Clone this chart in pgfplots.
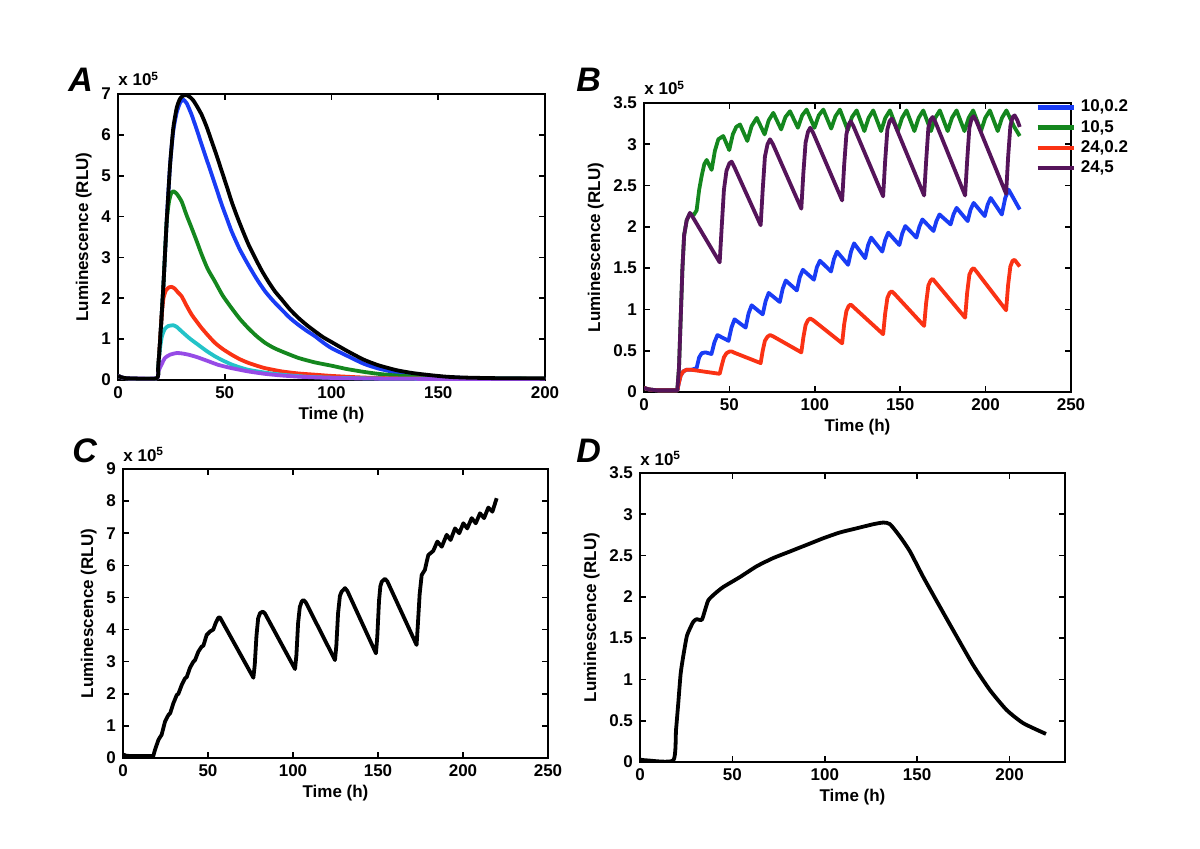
\documentclass[border=0pt]{standalone}
\usepackage{fontspec}
\setmainfont{Liberation Sans}
\usepackage{pgfplots}
\pgfplotsset{compat=1.18}
\definecolor{mblue}{RGB}{25,60,245}
\definecolor{mgreen}{RGB}{20,135,30}
\definecolor{mred}{RGB}{250,50,20}
\definecolor{mcyan}{RGB}{35,195,200}
\definecolor{mviolet}{RGB}{150,75,230}
\definecolor{mpurple}{RGB}{85,20,90}
\newcommand{\fs}{\fontsize{8.5}{10}\selectfont\bfseries}
\newcommand{\pl}{\fontsize{17}{18}\selectfont\bfseries\itshape}
\pgfplotsset{mat/.style={
  scale only axis,
  axis line style={line width=0.8pt},
  tick style={line width=0.8pt, black},
  tick align=inside,
  major tick length=3pt,
  xlabel={Time (h)},
  ylabel={Luminescence (RLU)},
  tick label style={font=\fs},
  label style={font=\fs},
  /pgf/number format/assume math mode=true,
  every axis plot/.append style={line width=1.9pt, line join=round},
  xlabel style={yshift=3pt},
  ylabel style={yshift=-2pt},
}}
\begin{document}
\begin{tikzpicture}
\path (0pt,0pt) rectangle (600pt,424pt);
% ---------------- A ----------------
\begin{axis}[mat, name=A, at={(59pt,234pt)}, anchor=south west,
  width=213.5pt, height=143pt, xmin=0, xmax=200, ymin=0, ymax=7,
  xtick={0,50,100,150,200}, ytick={0,1,...,7},
  every axis plot/.append style={smooth, tension=0.35}]
\addplot[mblue] coordinates {(0,0.10)(2,0.06)(5,0.04)(18,0.04)(18.8,0.3)(19.7,0.95)(21.2,2.25)(22.8,3.88)(24.4,5.27)(25.9,6.1)(27.5,6.55)(29.2,6.80)(30.6,6.86)(32.2,6.77)(34.5,6.49)(36.8,6.14)(39.2,5.76)(41.5,5.40)(43.9,5.03)(46.3,4.65)(48.6,4.29)(51,3.95)(53.2,3.64)(57,3.20)(61,2.82)(65,2.47)(68.9,2.17)(72.8,1.93)(76.7,1.72)(80.5,1.52)(84.5,1.35)(88.5,1.20)(92.3,1.07)(96,0.92)(100,0.78)(107,0.60)(115,0.40)(122,0.28)(130.5,0.18)(138,0.12)(146,0.09)(154,0.065)(170,0.04)(200,0.03)};
\addplot[mgreen] coordinates {(0,0.10)(2,0.06)(5,0.04)(18,0.04)(18.8,0.3)(19.7,0.95)(21.2,2.25)(22.8,3.88)(24,4.40)(25,4.58)(25.9,4.62)(27.5,4.56)(29.8,4.37)(32,4.05)(34.5,3.72)(37,3.38)(39.2,3.07)(42,2.72)(45.4,2.41)(49,2.07)(53.2,1.76)(57,1.50)(61,1.27)(65,1.07)(68.9,0.91)(72.8,0.79)(76.7,0.70)(84.5,0.54)(92.3,0.43)(100,0.35)(107,0.27)(115,0.20)(122,0.15)(130.5,0.11)(146,0.06)(160,0.045)(200,0.03)};
\addplot[mred] coordinates {(0,0.10)(2,0.06)(5,0.04)(18,0.04)(18.8,0.3)(19.7,0.95)(20.5,1.6)(21.3,2.0)(22.5,2.2)(24,2.27)(25.1,2.28)(26.5,2.24)(28,2.15)(29.8,2.05)(32,1.83)(34.5,1.60)(37,1.42)(39.2,1.27)(42,1.10)(45.4,0.91)(49,0.76)(53.2,0.62)(57,0.51)(61,0.42)(65,0.35)(68.9,0.29)(76.7,0.21)(84.5,0.16)(92.3,0.13)(100,0.10)(115,0.06)(130,0.04)(150,0.03)(200,0.02)};
\addplot[mcyan] coordinates {(0,0.10)(2,0.06)(5,0.04)(18,0.04)(18.8,0.3)(19.5,0.7)(20.5,1.05)(21.8,1.24)(23.5,1.32)(25.9,1.34)(27.5,1.30)(29.8,1.19)(33.5,1.02)(37.6,0.86)(41.5,0.71)(45.4,0.58)(49,0.48)(53.2,0.38)(57,0.31)(61,0.25)(68.9,0.18)(76.7,0.13)(84.5,0.095)(92,0.07)(105,0.05)(130,0.03)(200,0.02)};
\addplot[mviolet] coordinates {(0,0.10)(2,0.06)(5,0.04)(18,0.04)(18.8,0.2)(20.4,0.38)(22,0.54)(24.4,0.62)(27.5,0.66)(30,0.65)(33,0.62)(37,0.56)(42.3,0.46)(47,0.37)(53.2,0.29)(61,0.21)(68.9,0.15)(76.7,0.11)(85,0.08)(92,0.065)(105,0.045)(130,0.03)(200,0.02)};
\addplot[black] coordinates {(0,0.10)(2,0.06)(5,0.04)(18,0.04)(18.8,0.3)(19.7,0.95)(21.2,2.25)(22.8,3.88)(24.4,5.27)(25.9,6.17)(27.5,6.66)(29.0,6.88)(30.5,6.96)(32.2,6.97)(33.8,6.92)(35.3,6.84)(37.2,6.68)(39.2,6.49)(41.5,6.2)(43.9,5.84)(46.3,5.48)(48.6,5.11)(51,4.73)(53.2,4.37)(55.5,4.04)(57.9,3.72)(61,3.33)(64.2,2.99)(67.3,2.68)(70.4,2.41)(73.5,2.17)(76.7,1.97)(80.5,1.73)(84.5,1.52)(88.5,1.34)(92.3,1.19)(96,1.05)(100,0.93)(107,0.72)(115,0.50)(122,0.36)(130.5,0.24)(138,0.17)(146,0.12)(154,0.08)(162,0.06)(177,0.045)(200,0.04)};
\end{axis}
\node[anchor=base west, font=\fs, inner sep=0pt] at ([yshift=4pt]A.north west) {x 10\textsuperscript{5}};
\node[anchor=base west, font=\pl, inner sep=0pt] at (34pt,378pt) {A};
% ---------------- B ----------------
\begin{axis}[mat, name=B, at={(322pt,228pt)}, anchor=south west,
  width=213.5pt, height=144.5pt, xmin=0, xmax=250, ymin=0, ymax=3.5,
  xtick={0,50,...,250}, ytick={0,0.5,...,3.5},
  yticklabel style={/pgf/number format/fixed},
  legend style={at={(rel axis cs:0.9157,1.021)}, anchor=north west, draw=none, fill=none,
    inner sep=0pt, font=\fs, row sep=0.15pt,
    nodes={text height=6.2pt, text depth=1.8pt, inner sep=1pt, anchor=west},
    /tikz/every odd column/.style={column sep=1.5pt}},
  legend image code/.code={\draw[#1, line width=2.2pt] (0pt,0pt) -- (18pt,0pt);},
  legend cell align=left]
\addplot[mblue] coordinates {(0,0.05)(3,0.03)(8,0.02)(19.5,0.02)(20.5,0.12)(21.5,0.2)(23,0.25)(25,0.27)(28,0.27)(30.8,0.29)(32.3,0.42)(33.8,0.47)(36,0.48)(39.5,0.46)(41.2,0.60)(43,0.69)(49.5,0.62)(51.2,0.78)(53,0.88)(59.5,0.78)(61.2,0.95)(63,1.05)(69.5,0.94)(71.2,1.10)(73,1.20)(79.5,1.09)(81.2,1.25)(83,1.35)(89.5,1.23)(91.2,1.39)(93,1.48)(99.5,1.36)(101.2,1.51)(103,1.59)(109.5,1.46)(111.2,1.61)(113,1.70)(119.5,1.54)(121.2,1.70)(123,1.80)(129.5,1.62)(131.2,1.78)(133,1.87)(139.5,1.70)(141.2,1.84)(143,1.93)(149.5,1.78)(151.2,1.92)(153,2.01)(159.5,1.87)(161.2,2.00)(163,2.09)(169.5,1.95)(171.2,2.07)(173,2.15)(179.5,2.03)(181.2,2.15)(183,2.23)(189.5,2.07)(191.2,2.21)(193,2.29)(199.5,2.13)(201.2,2.27)(203,2.35)(209.5,2.15)(211.5,2.35)(213.5,2.45)(220,2.21)};
\addlegendentry{10,0.2}
\addplot[mgreen] coordinates {(0,0.05)(3,0.03)(8,0.02)(19.5,0.02)(20.5,0.3)(21.5,0.9)(22.5,1.5)(23.5,1.9)(25,2.08)(26.9,2.16)(29,2.14)(30.8,2.2)(32.3,2.45)(33.8,2.62)(35.3,2.76)(36.7,2.81)(39.6,2.69)(41.5,2.92)(43.5,3.06)(46.4,3.10)(49.9,2.93)(52,3.12)(54,3.21)(56.2,3.24)(60.5,3.04)(63,3.22)(66,3.32)(70.6,3.12)(73,3.29)(75.7,3.38)(80.3,3.18)(82.8,3.33)(85.5,3.40)(90.1,3.20)(92.6,3.35)(95.2,3.42)(99.8,3.20)(102.3,3.35)(105,3.42)(109.6,3.19)(112.1,3.34)(114.7,3.42)(119.3,3.17)(121.8,3.33)(124.5,3.41)(129,3.16)(131.5,3.32)(134.2,3.41)(138.8,3.16)(141.3,3.32)(144,3.41)(148.6,3.16)(151.1,3.32)(153.7,3.41)(158.3,3.16)(160.8,3.32)(163.5,3.41)(168,3.16)(170.5,3.32)(173.2,3.41)(177.8,3.16)(180.3,3.32)(183,3.41)(187.6,3.16)(190.1,3.32)(192.7,3.41)(197.3,3.16)(199.8,3.32)(202.5,3.41)(207.1,3.16)(209.6,3.32)(212.2,3.41)(216.5,3.22)(220,3.10)};
\addlegendentry{10,5}
\addplot[mred] coordinates {(0,0.05)(3,0.03)(8,0.02)(19.5,0.02)(20.5,0.12)(21.5,0.2)(23,0.25)(25,0.27)(27.5,0.27)(44.3,0.22)(45.5,0.32)(46.8,0.42)(48.3,0.47)(50,0.49)(51.5,0.49)(53,0.475)(68.3,0.35)(69.5,0.5)(70.8,0.62)(72.3,0.67)(73.8,0.69)(75.5,0.675)(92.1,0.48)(93.3,0.66)(94.6,0.81)(96,0.87)(97.3,0.89)(99,0.87)(116,0.59)(117.2,0.82)(118.5,0.98)(119.8,1.04)(121,1.06)(122.6,1.03)(140,0.70)(141.2,0.95)(142.5,1.14)(143.8,1.20)(145,1.22)(146.6,1.19)(164,0.80)(165.2,1.08)(166.5,1.29)(167.8,1.35)(169,1.37)(170.6,1.33)(188,0.90)(189.2,1.2)(190.5,1.42)(191.8,1.48)(193,1.50)(194.6,1.46)(212,0.99)(213.2,1.3)(214.5,1.52)(215.8,1.59)(217,1.60)(218.5,1.56)(220,1.52)};
\addlegendentry{24,0.2}
\addplot[mpurple] coordinates {(0,0.05)(3,0.03)(8,0.02)(19.5,0.02)(20.5,0.3)(21.5,0.9)(22.5,1.5)(23.5,1.9)(25,2.08)(26.9,2.17)(28.5,2.12)(44.3,1.57)(45.5,2.0)(46.8,2.45)(48.3,2.68)(50,2.77)(51.3,2.79)(53,2.72)(68.3,2.02)(69.5,2.45)(70.8,2.85)(72.3,3.0)(73.8,3.06)(75.5,3.0)(92.1,2.22)(93.3,2.65)(94.6,3.02)(96,3.15)(97.3,3.20)(99,3.14)(116,2.32)(117.2,2.75)(118.5,3.12)(119.8,3.24)(121,3.28)(122.6,3.22)(140,2.37)(141.2,2.8)(142.5,3.18)(143.8,3.28)(145,3.31)(146.6,3.25)(164,2.38)(165.2,2.8)(166.5,3.2)(167.8,3.30)(169,3.33)(170.6,3.27)(188,2.38)(189.2,2.8)(190.5,3.2)(191.8,3.31)(193,3.34)(194.6,3.28)(212,2.40)(213.2,2.85)(214.5,3.22)(215.8,3.33)(217,3.35)(218.6,3.29)(220,3.21)};
\addlegendentry{24,5}
\end{axis}
\node[anchor=base west, font=\fs, inner sep=0pt] at ([yshift=4pt]B.north west) {x 10\textsuperscript{5}};
\node[anchor=base west, font=\pl, inner sep=0pt] at (288pt,378pt) {B};
% ---------------- C ----------------
\begin{axis}[mat, name=C, at={(61.5pt,45pt)}, anchor=south west,
  width=212.5pt, height=144.5pt, xmin=0, xmax=250, ymin=0, ymax=9,
  xtick={0,50,...,250}, ytick={0,1,...,9}]
\addplot[black] coordinates {(0,0.11)(2,0.07)(5,0.06)(17.8,0.06)(18.8,0.25)(20.8,0.56)(21.8,0.65)(22.7,0.72)(24.7,1.13)(26.7,1.34)(27.8,1.40)(29.6,1.70)(31.6,1.96)(32.6,2.0)(34.5,2.27)(36.5,2.48)(37.5,2.52)(39.4,2.81)(41.4,3.0)(42.4,3.05)(44.3,3.31)(46.3,3.47)(47.3,3.50)(49.2,3.83)(51.2,3.94)(53.1,4.0)(54.5,4.2)(56.1,4.37)(57,4.38)(76.7,2.50)(77.5,2.9)(78.5,3.8)(79.5,4.35)(80.6,4.51)(82.2,4.56)(83.5,4.50)(101.2,2.77)(102,3.2)(103,4.2)(104,4.7)(105.1,4.87)(106.1,4.92)(107.5,4.85)(124.7,3.05)(125.5,3.5)(126.5,4.5)(127.6,5.05)(128.6,5.18)(130.6,5.29)(132,5.2)(148.8,3.26)(149.6,3.8)(150.6,4.9)(151.4,5.35)(152.2,5.49)(154.1,5.58)(155.5,5.5)(172.7,3.52)(173.5,4.2)(174.5,5.1)(175.7,5.70)(177.6,5.86)(178.6,6.1)(179.6,6.32)(181.6,6.41)(182.5,6.45)(184.9,6.74)(187.5,6.58)(190.4,6.95)(192.7,6.79)(195.3,7.15)(197.8,7.0)(200.2,7.31)(202.5,7.15)(205.1,7.47)(207.5,7.31)(210,7.62)(212.4,7.47)(214.9,7.80)(217.3,7.67)(219.8,8.09)};
\end{axis}
\node[anchor=base west, font=\fs, inner sep=0pt] at ([yshift=4pt]C.north west) {x 10\textsuperscript{5}};
\node[anchor=base west, font=\pl, inner sep=0pt] at (36pt,193pt) {C};
% ---------------- D ----------------
\begin{axis}[mat, name=D, at={(320pt,43pt)}, anchor=south west,
  width=212.5pt, height=144.5pt, xmin=0, xmax=230, ymin=0, ymax=3.5,
  xtick={0,50,...,200}, ytick={0,0.5,...,3.5},
  yticklabel style={/pgf/number format/fixed}]
\addplot[black, smooth, tension=0.35] coordinates {(0,0.03)(3.6,0.02)(18,0.02)(19.5,0.39)(20.7,0.71)(22,1.07)(23.4,1.28)(25.3,1.52)(27.1,1.62)(28.9,1.70)(30.7,1.73)(33.4,1.72)(35.2,1.84)(37,1.96)(40.6,2.04)(45.1,2.12)(54.1,2.24)(63.1,2.37)(72.1,2.47)(81.2,2.55)(90.2,2.63)(99.2,2.71)(108.2,2.78)(117.2,2.83)(126.3,2.88)(131.7,2.90)(135.3,2.88)(140.7,2.73)(146.1,2.55)(153.3,2.24)(162.3,1.88)(171.4,1.52)(180.4,1.17)(189.4,0.87)(198.4,0.63)(207.4,0.47)(219.7,0.34)};
\end{axis}
\node[anchor=base west, font=\fs, inner sep=0pt] at ([yshift=4pt]D.north west) {x 10\textsuperscript{5}};
\node[anchor=base west, font=\pl, inner sep=0pt] at (288pt,193pt) {D};
\end{tikzpicture}
\end{document}
